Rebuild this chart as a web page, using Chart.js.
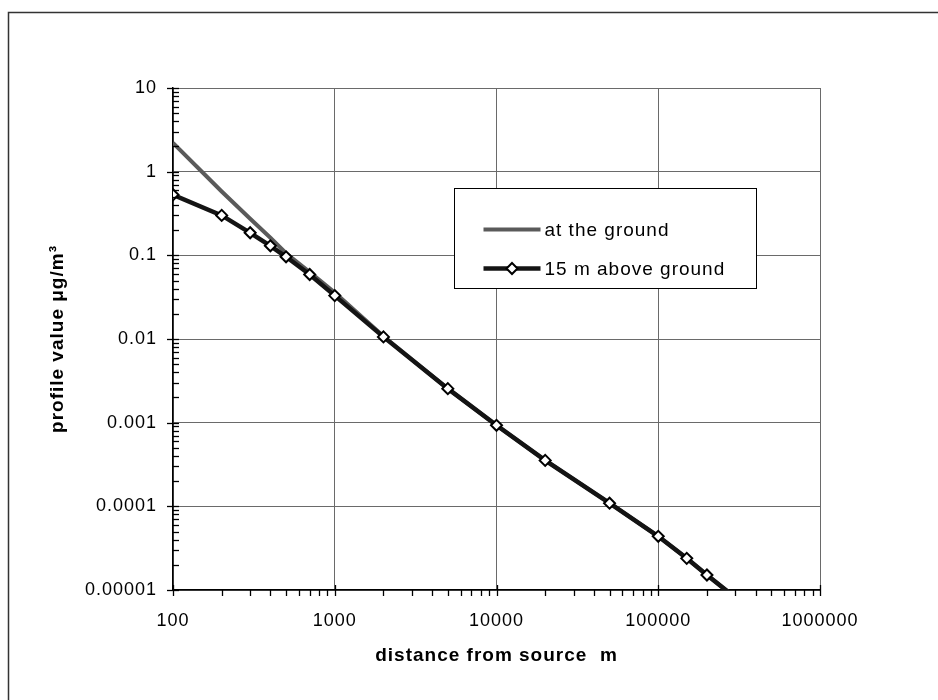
<!DOCTYPE html>
<html><head><meta charset="utf-8">
<script src="https://cdn.jsdelivr.net/npm/chart.js@4"></script>
<style>html,body{margin:0;padding:0;background:#fff;}</style>
</head><body>
<canvas id="c" width="938" height="700"></canvas>
<script>
// ---- data ----
const distances = [100, 200, 300, 400, 500, 700, 1000, 2000, 5000, 10000, 20000, 50000, 100000, 150000, 200000, 300000];
const atGround  = [2.2, 0.58, 0.274, 0.162, 0.106, 0.063, 0.036, 0.0108, 0.00255, 0.00093, 0.000354, 0.000109, 0.0000438, 0.0000239, 0.0000151, 0.0000081];
const above15m  = [0.53, 0.30, 0.186, 0.13, 0.096, 0.059, 0.033, 0.0106, 0.00255, 0.00093, 0.000354, 0.000109, 0.0000438, 0.0000239, 0.0000151, 0.0000081];
const seriesNames = ['at the ground', '15 m above ground'];
const xTickLabels = ['100', '1000', '10000', '100000', '1000000'];
const yTickLabels = ['0.00001', '0.0001', '0.001', '0.01', '0.1', '1', '10'];
const xTitle = 'distance from source  m';
const yTitle = 'profile value \u03bcg/m\u00b3';

const X_MIN_EXP = 2, X_MAX_EXP = 6, Y_MIN_EXP = -5, Y_MAX_EXP = 1;
const FONT = '"Liberation Sans", Arial, Helvetica, sans-serif';
const SPACING = '1px';

function isPow10(v) { const l = Math.log10(v); return Math.abs(l - Math.round(l)) < 1e-6; }
function logTicks(lo, hi) {
  const t = [];
  for (let e = lo; e < hi; e++) for (let k = 1; k < 10; k++) t.push({ value: k * Math.pow(10, e) });
  t.push({ value: Math.pow(10, hi) });
  return t;
}
function labelFor(labels, lo) {
  return (v) => isPow10(v) ? (labels[Math.round(Math.log10(v)) - lo] ?? '') : '';
}

const spacingPlugin = {
  id: 'spacing',
  beforeUpdate(chart) { chart.ctx.letterSpacing = SPACING; },
  beforeLayout(chart) { chart.ctx.letterSpacing = SPACING; },
  beforeDraw(chart) { chart.ctx.letterSpacing = SPACING; }
};

const decoPlugin = {
  id: 'deco',
  afterDraw(chart) {
    const ctx = chart.ctx, a = chart.chartArea, xs = chart.scales.x, ys = chart.scales.y;
    ctx.save();
    // tick marks
    ctx.strokeStyle = '#000'; ctx.lineWidth = 1.3;
    ys.ticks.forEach(t => {
      const y = Math.round(ys.getPixelForValue(t.value)) + 0.5;
      const maj = isPow10(t.value);
      ctx.beginPath(); ctx.moveTo(a.left - (maj ? 6 : 0), y); ctx.lineTo(a.left + 6, y); ctx.stroke();
    });
    xs.ticks.forEach(t => {
      const x = Math.round(xs.getPixelForValue(t.value)) + 0.5;
      const maj = isPow10(t.value);
      ctx.beginPath(); ctx.moveTo(x, a.bottom - (maj ? 5 : 0)); ctx.lineTo(x, a.bottom + 6); ctx.stroke();
    });
    // outer frame (top and left edges visible)
    ctx.strokeStyle = '#333'; ctx.lineWidth = 1.5;
    ctx.beginPath(); ctx.moveTo(8.5, 700); ctx.lineTo(8.5, 12.5); ctx.lineTo(938, 12.5); ctx.stroke();
    // legend
    const w = a.right - a.left, h = a.bottom - a.top;
    const lx = Math.round(a.left + w * 0.434) + 0.5, ly = Math.round(a.top + h * 0.2) + 0.5;
    const lw = 302, lh = 100;
    ctx.fillStyle = '#fff'; ctx.fillRect(lx, ly, lw, lh);
    ctx.strokeStyle = '#000'; ctx.lineWidth = 1; ctx.strokeRect(lx, ly, lw, lh);
    const ds = chart.data.datasets;
    const rows = [ly + 41, ly + 80];
    ctx.font = '19px ' + FONT; ctx.letterSpacing = SPACING;
    ctx.textBaseline = 'middle'; ctx.textAlign = 'left'; ctx.fillStyle = '#000';
    ds.forEach((d, i) => {
      const y = rows[i];
      ctx.strokeStyle = d.borderColor; ctx.lineWidth = d.borderWidth;
      ctx.beginPath(); ctx.moveTo(lx + 29, y); ctx.lineTo(lx + 86, y); ctx.stroke();
      if (d.showMarker) {
        const cx = lx + 57.5, r = 5.5;
        ctx.beginPath(); ctx.moveTo(cx, y - r); ctx.lineTo(cx + r, y); ctx.lineTo(cx, y + r); ctx.lineTo(cx - r, y); ctx.closePath();
        ctx.fillStyle = '#fff'; ctx.fill(); ctx.strokeStyle = '#000'; ctx.lineWidth = 2; ctx.stroke();
        ctx.fillStyle = '#000';
      }
      ctx.fillText(d.label, lx + 90, y + 1);
    });
    ctx.restore();
  }
};

const yMinVal = Math.pow(10, Y_MIN_EXP);
new Chart(document.getElementById('c'), {
  type: 'line',
  data: {
    datasets: [
      {
        label: seriesNames[0], showMarker: false, order: 1,
        data: distances.map((x, i) => ({ x, y: atGround[i] })),
        borderColor: '#5a5a5a', borderWidth: 4, tension: 0, pointRadius: 0
      },
      {
        label: seriesNames[1], showMarker: true, order: 0,
        data: distances.map((x, i) => ({ x, y: above15m[i] })),
        borderColor: '#141414', borderWidth: 4.5, tension: 0,
        pointStyle: 'rectRot',
        pointRadius: ctx => (ctx.raw && ctx.raw.y < yMinVal) ? 0 : 5.5,
        pointBackgroundColor: '#fff', pointBorderColor: '#000', pointBorderWidth: 2
      }
    ]
  },
  options: {
    responsive: false, animation: false,
    layout: { padding: { left: 0, top: 88, right: 118, bottom: 0 } },
    plugins: { legend: { display: false }, tooltip: { enabled: false } },
    scales: {
      x: {
        type: 'logarithmic', position: 'bottom',
        min: Math.pow(10, X_MIN_EXP), max: Math.pow(10, X_MAX_EXP),
        afterFit: s => { s.height = 110; },
        afterBuildTicks: s => { s.ticks = logTicks(X_MIN_EXP, X_MAX_EXP); },
        grid: { color: c => (c.tick && isPow10(c.tick.value)) ? '#6a6a6a' : 'transparent', lineWidth: 1, drawTicks: false },
        border: { color: '#000', width: 1.5 },
        ticks: { autoSkip: false, maxRotation: 0, padding: 20, color: '#000', font: { size: 18, family: FONT }, callback: labelFor(xTickLabels, X_MIN_EXP) },
        title: { display: true, text: xTitle, color: '#000', font: { size: 19, weight: 'bold', family: FONT }, padding: { top: 0, bottom: 33 } }
      },
      y: {
        type: 'logarithmic', position: 'left',
        min: Math.pow(10, Y_MIN_EXP), max: Math.pow(10, Y_MAX_EXP),
        afterFit: s => { s.width = 173; },
        afterBuildTicks: s => { s.ticks = logTicks(Y_MIN_EXP, Y_MAX_EXP); },
        grid: { color: c => (c.tick && isPow10(c.tick.value)) ? '#6a6a6a' : 'transparent', lineWidth: 1, drawTicks: false },
        border: { color: '#000', width: 1.5 },
        ticks: { autoSkip: false, padding: 16, color: '#000', font: { size: 18, family: FONT }, callback: labelFor(yTickLabels, Y_MIN_EXP) },
        title: { display: true, text: yTitle, color: '#000', font: { size: 19, weight: 'bold', family: FONT }, padding: { top: 46, bottom: 0 } }
      }
    }
  },
  plugins: [spacingPlugin, decoPlugin]
});
</script>
</body></html>
